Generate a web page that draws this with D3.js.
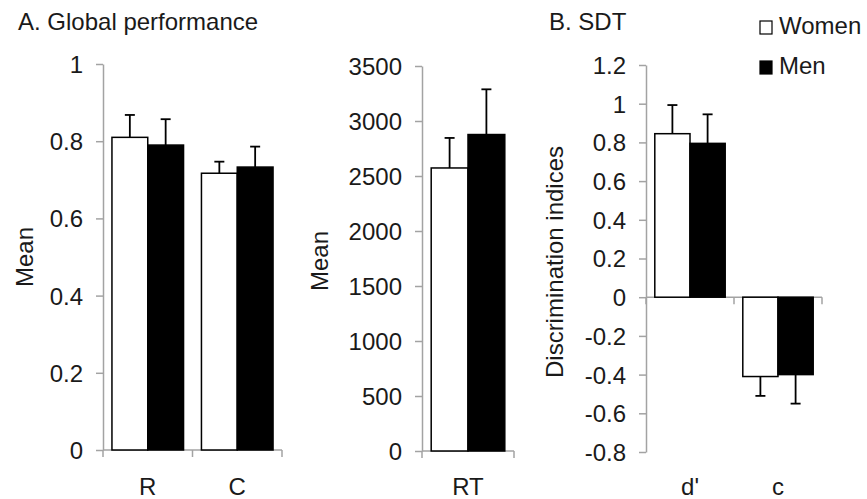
<!DOCTYPE html>
<html>
<head>
<meta charset="utf-8">
<script src="https://cdn.jsdelivr.net/npm/d3@7"></script>
<style>
  body { margin: 0; background: #fff; }
  svg text { font-family: "Liberation Sans", Arial, sans-serif; fill: #1a1a1a; }
  .axis path, .axis line { stroke: #a3a3a3; stroke-width: 1.5; fill: none; }
</style>
</head>
<body>
<div id="chart"></div>
<script>
// data
var groups = ["Women", "Men"];

var perfCats = ["R", "C"];
var perfWomen = [0.81, 0.717];
var perfMen = [0.79, 0.733];
var perfWomenErr = [0.058, 0.03];
var perfMenErr = [0.067, 0.053];
var perfTicks = [0, 0.2, 0.4, 0.6, 0.8, 1];

var rtCats = ["RT"];
var rtWomen = [2573];
var rtMen = [2877];
var rtWomenErr = [273];
var rtMenErr = [411];
var rtTicks = [0, 500, 1000, 1500, 2000, 2500, 3000, 3500];

var sdtCats = ["d'", "c"];
var sdtWomen = [0.845, -0.41];
var sdtMen = [0.795, -0.40];
var sdtWomenErr = [0.148, 0.1];
var sdtMenErr = [0.15, 0.15];
var sdtTicks = [-0.8, -0.6, -0.4, -0.2, 0, 0.2, 0.4, 0.6, 0.8, 1, 1.2];

var W = 867, H = 499, fs = 24;

var svg = d3.select("#chart").append("svg")
    .attr("width", W)
    .attr("height", H);

var fmt = function(v) { return String(+v.toFixed(1)); };

function panel(opts) {
    var x = d3.scaleBand()
        .domain(opts.cats)
        .range(opts.xRange)
        .paddingInner(0)
        .paddingOuter(0);

    var x1 = d3.scaleBand()
        .domain(groups)
        .range([0, x.bandwidth()])
        .paddingInner(0)
        .paddingOuter(0.25);

    var y = d3.scaleLinear()
        .domain(opts.yDomain)
        .range(opts.yRange);

    var g = svg.append("g");

    // y axis
    var yAxis = d3.axisLeft(y)
        .tickValues(opts.ticks)
        .tickSizeInner(7)
        .tickSizeOuter(0)
        .tickPadding(13)
        .tickFormat(opts.format || fmt);

    var ya = g.append("g")
        .attr("class", "axis")
        .attr("transform", "translate(" + opts.xRange[0] + ",0)")
        .call(yAxis);
    ya.selectAll("text").style("font-size", fs + "px").attr("dy", "0.35em");

    // x axis line at zero with ticks at band edges
    var y0 = y(0);
    var xa = g.append("g").attr("class", "axis");
    xa.append("line")
        .attr("x1", opts.xRange[0]).attr("x2", opts.xRange[1])
        .attr("y1", y0).attr("y2", y0);
    var edges = opts.cats.map(function(c) { return x(c); }).concat([opts.xRange[1]]);
    xa.selectAll("line.tk")
        .data(edges)
        .enter()
        .append("line")
        .attr("class", "tk")
        .attr("x1", d => d).attr("x2", d => d)
        .attr("y1", y0).attr("y2", y0 + 7);

    // category labels at the bottom
    g.selectAll("text.cat")
        .data(opts.cats)
        .enter()
        .append("text")
        .attr("class", "cat")
        .attr("x", d => x(d) + x.bandwidth() / 2)
        .attr("y", 495)
        .attr("text-anchor", "middle")
        .style("font-size", fs + "px")
        .text(d => d);

    // bars
    var rows = [];
    opts.cats.forEach(function(c, i) {
        rows.push({cat: c, grp: "Women", v: opts.women[i], e: opts.womenErr[i]});
        rows.push({cat: c, grp: "Men", v: opts.men[i], e: opts.menErr[i]});
    });

    var bars = g.append("g");
    bars.selectAll("rect")
        .data(rows)
        .enter()
        .append("rect")
        .attr("x", d => x(d.cat) + x1(d.grp))
        .attr("width", x1.bandwidth())
        .attr("y", d => Math.min(y(d.v), y0))
        .attr("height", d => Math.abs(y(d.v) - y0))
        .attr("fill", d => d.grp === "Women" ? "#fff" : "#000")
        .attr("stroke", "#000")
        .attr("stroke-width", 1.5);

    // error bars, one-sided away from zero
    var err = g.append("g").attr("stroke", "#000").attr("stroke-width", 1.8);
    rows.forEach(function(d) {
        var cx = x(d.cat) + x1(d.grp) + x1.bandwidth() / 2;
        var tip = d.v >= 0 ? d.v + d.e : d.v - d.e;
        err.append("line")
            .attr("x1", cx).attr("x2", cx)
            .attr("y1", y(d.v)).attr("y2", y(tip));
        err.append("line")
            .attr("x1", cx - 5).attr("x2", cx + 5)
            .attr("y1", y(tip)).attr("y2", y(tip));
    });

    // y title
    g.append("text")
        .attr("transform", "translate(" + opts.titleX + "," + opts.titleY + ") rotate(-90)")
        .attr("text-anchor", "middle")
        .style("font-size", fs + "px")
        .text(opts.yTitle);
}

panel({
    cats: perfCats, women: perfWomen, men: perfMen,
    womenErr: perfWomenErr, menErr: perfMenErr,
    xRange: [103, 282], yDomain: [0, 1], yRange: [450, 64],
    ticks: perfTicks, yTitle: "Mean", titleX: 33, titleY: 257
});

panel({
    cats: rtCats, women: rtWomen, men: rtMen,
    womenErr: rtWomenErr, menErr: rtMenErr,
    xRange: [422, 514], yDomain: [0, 3500], yRange: [451, 66],
    ticks: rtTicks, format: d3.format("d"),
    yTitle: "Mean", titleX: 328, titleY: 261
});

panel({
    cats: sdtCats, women: sdtWomen, men: sdtMen,
    womenErr: sdtWomenErr, menErr: sdtMenErr,
    xRange: [646, 822], yDomain: [-0.8, 1.2], yRange: [452, 65],
    ticks: sdtTicks, yTitle: "Discrimination indices", titleX: 563, titleY: 262
});

// panel titles
svg.append("text").attr("x", 18).attr("y", 30)
    .style("font-size", fs + "px").text("A. Global performance");
svg.append("text").attr("x", 549).attr("y", 30)
    .style("font-size", fs + "px").text("B. SDT");

// legend
var legend = svg.append("g");
legend.selectAll("rect")
    .data(groups)
    .enter()
    .append("rect")
    .attr("x", 760)
    .attr("y", (d, i) => 21 + i * 40)
    .attr("width", 12)
    .attr("height", 13)
    .attr("fill", d => d === "Women" ? "#fff" : "#000")
    .attr("stroke", "#000")
    .attr("stroke-width", 1.2);
legend.selectAll("text")
    .data(groups)
    .enter()
    .append("text")
    .attr("x", 779)
    .attr("y", (d, i) => 34 + i * 40)
    .style("font-size", fs + "px")
    .text(d => d);
</script>
</body>
</html>
